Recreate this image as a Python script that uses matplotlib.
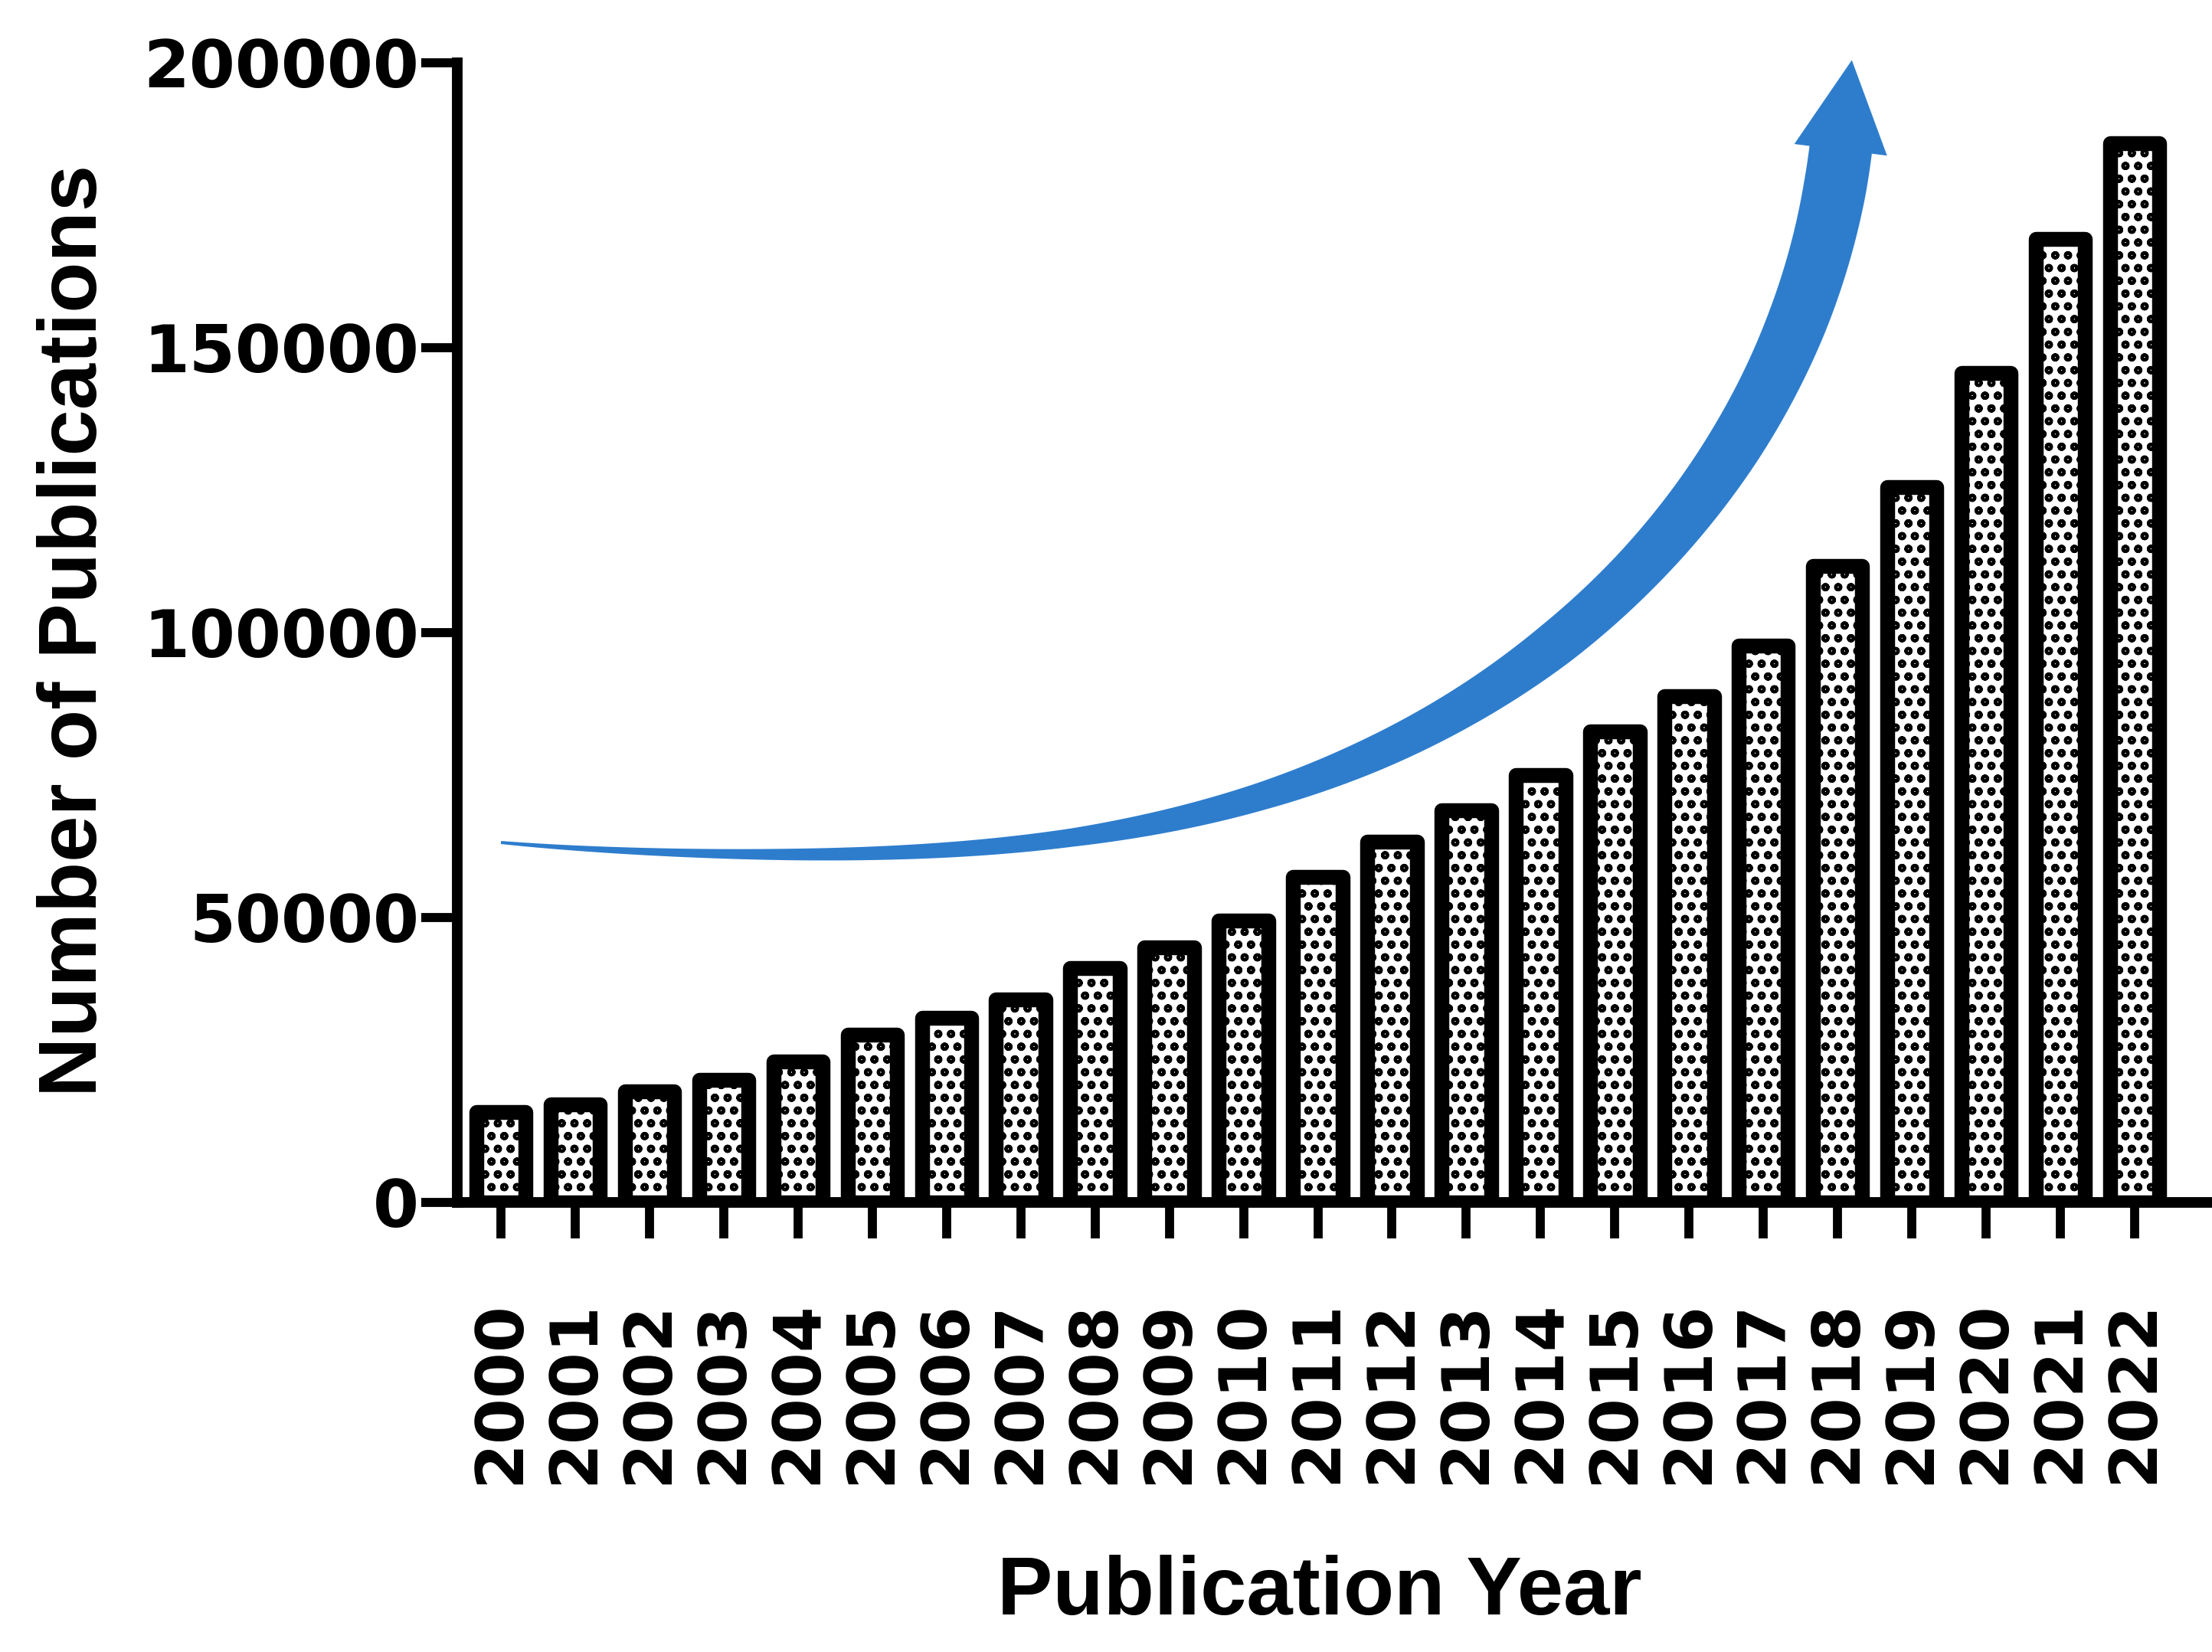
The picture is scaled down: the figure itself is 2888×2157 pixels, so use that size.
import matplotlib
matplotlib.use("Agg")
import matplotlib.pyplot as plt
import numpy as np
from matplotlib.patches import Polygon

# ---------------- data ----------------
years = ['2000', '2001', '2002', '2003', '2004', '2005', '2006', '2007',
         '2008', '2009', '2010', '2011', '2012', '2013', '2014', '2015',
         '2016', '2017', '2018', '2019', '2020', '2021', '2022']
publications = [15900, 17200, 19500, 21500, 24700, 29400, 32400, 35600,
                41100, 44800, 49500, 57100, 63300, 68800, 75000, 82700,
                88800, 97700, 111700, 125500, 145600, 169100, 185900]
ytick_values = [0, 50000, 100000, 150000, 200000]
ytick_labels = ['0', '50000', '100000', '150000', '200000']

# decorative trend arrow: centre line (bar index, publications) and width (px)
arrow_x = [0.0, 3.889, 7.695, 10.222, 11.676, 12.934, 14.203, 15.255,
           16.018, 16.627, 17.101, 17.462, 17.751, 17.968, 18.040]
arrow_y = [63170, 61020, 64250, 70830, 78360, 86830, 98120, 110480,
           121770, 133060, 143950, 154840, 166530, 177960, 184680]
arrow_w = [4, 15, 24, 36, 45, 52, 60, 64, 68, 72, 75, 78, 80, 82, 82]

plt.rcParams['hatch.linewidth'] = 3.0
plt.rcParams['hatch.color'] = 'black'

fig = plt.figure(figsize=(28.88, 21.57), dpi=100)
ax = fig.add_axes([0.20672, 0.27214, 0.79155, 0.68985])

x = np.arange(len(years))
ax.bar(x, publications, width=0.665, facecolor='white', edgecolor='black',
       linewidth=14, hatch='o', joinstyle='round', zorder=2)

ax.set_xlim(-0.588, 22.99)
ax.set_ylim(0, 200000)

for s in ['top', 'right']:
    ax.spines[s].set_visible(False)
for s in ['left', 'bottom']:
    ax.spines[s].set_linewidth(10)
    ax.spines[s].set_capstyle('projecting')
    ax.spines[s].set_zorder(3)

ax.set_yticks(ytick_values)
ax.set_yticklabels(ytick_labels)
ax.set_xticks(x)
ax.set_xticklabels(years, rotation=90)
ax.tick_params(axis='y', length=34, width=8.5, pad=2, direction='out')
ax.tick_params(axis='x', length=34, width=8.5, pad=58, direction='out')
for lab in ax.get_yticklabels() + ax.get_xticklabels():
    lab.set_fontfamily('DejaVu Sans')
    lab.set_fontweight('bold')
    lab.set_fontsize(62)

ax.set_xlabel('Publication Year', fontsize=78, fontweight='bold',
              family='Liberation Sans')
ax.set_ylabel('Number of Publications', fontsize=78, fontweight='bold',
              family='Liberation Sans')
ax.xaxis.set_label_coords(0.4926, -0.309)
ax.yaxis.set_label_coords(-0.1964, 0.502)


# ---------------- arrow (smooth fitted centre line, in pixel space) ----------------
pix = ax.transData.transform(np.column_stack([arrow_x, arrow_y]))
seg = np.linalg.norm(np.diff(pix, axis=0), axis=1)
s = np.concatenate([[0], np.cumsum(seg)])
s /= s[-1]
deg = 6
px_fit = np.polyfit(s, pix[:, 0], deg)
py_fit = np.polyfit(s, pix[:, 1], deg)
ss = np.linspace(0, 1, 800)
C = np.column_stack([np.polyval(px_fit, ss), np.polyval(py_fit, ss)])
D = np.column_stack([np.polyval(np.polyder(px_fit), ss), np.polyval(np.polyder(py_fit), ss)])
T = D / np.linalg.norm(D, axis=1)[:, None]
N = np.column_stack([-T[:, 1], T[:, 0]])
W = np.interp(ss, s, arrow_w)
left = C + N * (W[:, None] / 2)
right = C - N * (W[:, None] / 2)
base = C[-1]
d = T[-1]
n = N[-1]
head_half = 61
head_len = 118
tip = base + d * head_len
barb_l = base + n * head_half
barb_r = base - n * head_half
poly_pix = np.vstack([left, barb_l, tip, barb_r, right[::-1]])
poly = ax.transData.inverted().transform(poly_pix)
ax.add_patch(Polygon(poly, closed=True, facecolor='#2e7dcd', edgecolor='none',
                     clip_on=False, zorder=4))

fig.savefig('out.png', dpi=100, facecolor='white')
